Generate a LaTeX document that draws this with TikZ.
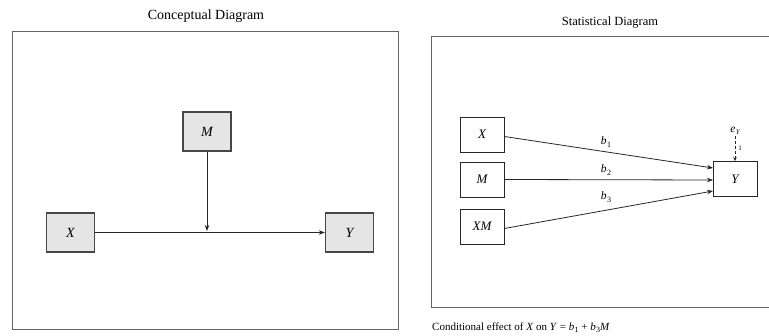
\documentclass[tikz,border=0pt]{standalone}
\usepackage{fontspec}
\setmainfont{Liberation Serif}
\usetikzlibrary{arrows.meta}
\newcommand{\vsub}[2]{\textit{#1}\kern0.3pt\raisebox{-0.4ex}{\fontsize{8}{9}\selectfont #2}}
\begin{document}
\begin{tikzpicture}[x=1pt,y=-1pt,
  cbox/.style={draw=black!72,line width=1.3pt,fill=black!10,minimum width=48pt,minimum height=39pt,inner sep=0pt,font=\fontsize{14}{16}\selectfont\itshape},
  sbox/.style={draw=black!85,line width=0.8pt,fill=white,minimum width=44pt,minimum height=35pt,inner sep=0pt,font=\fontsize{13}{15}\selectfont\itshape},
  frame/.style={draw=black!60,line width=1pt},
  arr/.style={draw=black!85,line width=0.8pt,-{Stealth[length=6pt,width=4.5pt]}},
  lab/.style={font=\fontsize{11.5}{13}\selectfont,inner sep=1pt}]
\useasboundingbox (0,0) rectangle (769,336);
% left panel
\node[font=\fontsize{14}{16}\selectfont] (t1) at (206,16) {Conceptual Diagram};
\draw[frame] (12,32) rectangle (398,330);
\node[cbox] (cM) at (207,131.5) {M};
\node[cbox] (cX) at (70.5,232.5) {X};
\node[cbox] (cY) at (349.5,232.5) {Y};
\draw[arr,line width=1pt] (cX) -- (cY);
\coordinate (mid) at (207,231);
\draw[arr,line width=1pt] (cM) -- (mid);
% right panel
\node[font=\fontsize{12.5}{15}\selectfont] (t2) at (610,23) {Statistical Diagram};
\draw[frame,line width=0.9pt] (431,36) -- (431,307) -- (772,307);
\draw[frame,line width=0.9pt] (431,36) -- (772,36);
\node[sbox] (sX) at (482,134.5) {X};
\node[sbox] (sM) at (482,179.5) {M};
\node[sbox] (sXM) at (482,226.5) {XM};
\node[sbox] (sY) at (735,179) {Y};
\coordinate (y1) at (713,168);
\coordinate (y2) at (713,180);
\coordinate (y3) at (713,191);
\draw[arr] (sX.east) ++(0,2) coordinate (x1) (x1) -- (y1);
\draw[arr] (sM.east) -- (y2);
\draw[arr] (sXM.east) ++(0,2) coordinate (x3) (x3) -- (y3);
\node[lab] (b1) at (606,142) {\vsub{b}{1}};
\node[lab] (b2) at (606,170) {\vsub{b}{2}};
\node[lab] (b3) at (606,197) {\vsub{b}{3}};
\node[lab] (eY) at (735,131) {\textit{e}\kern0.3pt\raisebox{-0.4ex}{\fontsize{7}{8}\selectfont\itshape Y}};
\draw[draw=black!85,line width=0.8pt,dash pattern=on 3pt off 2pt,-{Stealth[length=4pt,width=3.5pt]}] (eY.south) -- (sY.north);
\node[font=\fontsize{7}{8}\selectfont,inner sep=0pt] (one) at (740,148) {1};
\node[anchor=west,font=\fontsize{11}{13}\selectfont,inner sep=0pt] (cond) at (432,328) {Conditional effect of \textit{X} on \textit{Y} = \vsub{b}{1} + \vsub{b}{3}\textit{M}};
\end{tikzpicture}
\end{document}
